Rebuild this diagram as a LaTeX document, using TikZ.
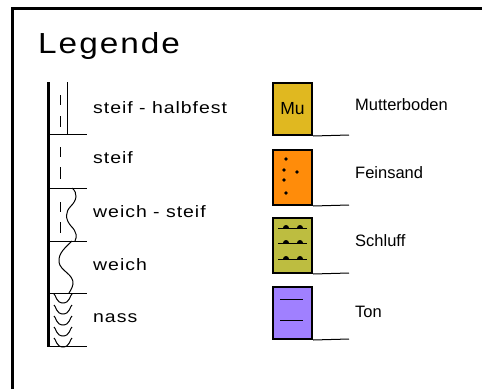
\documentclass[tikz,border=0pt]{standalone}
\usepackage{graphicx}
\usepackage{fontspec}
\setmainfont{Liberation Sans}
\newfontfamily\spacedfont{Liberation Sans}[LetterSpace=5]
\newfontfamily\titlefont{Liberation Sans}[LetterSpace=6]
\newcommand{\widetxt}[1]{\scalebox{1.18}[1]{#1}}
\definecolor{mucol}{HTML}{E0B820}
\definecolor{fscol}{HTML}{FF8C0A}
\definecolor{sucol}{HTML}{BDBD40}
\definecolor{tocol}{HTML}{A080FF}
\begin{document}
\begin{tikzpicture}[x=1pt,y=-1pt,
  lbl/.style={anchor=west,inner sep=0pt,font=\fontsize{16.5}{18}\selectfont},
  slbl/.style={anchor=west,inner sep=0pt,font=\spacedfont\fontsize{16.5}{18}\selectfont},
  soilbox/.style={draw=black,line width=2pt,minimum width=39pt,minimum height=#1,inner sep=0pt},
  sep/.style={line width=1pt},
  thin/.style={line width=1pt}]
\useasboundingbox (0,0) rectangle (482,389);
% frame
\draw[line width=3pt] (12,389) -- (12,8.5) -- (482,8.5);
\node[anchor=base west,inner sep=0pt,font=\titlefont\fontsize{29}{30}\selectfont] (title) at (38,53) {\scalebox{1.15}[1]{Legende}};
% left column
\coordinate (c0) at (48.5,82);
\coordinate (c5) at (48.5,347);
\draw[line width=2.5pt] (c0) -- (c5);
\foreach \y in {134,188,241,293,346} \draw[sep] (48,\y) -- (87,\y);
% section 1
\draw[thin] (67,82) -- (67,134);
\draw[thin] (60,95) -- (60,105) (60,116) -- (60,127);
% section 2
\draw[thin] (60,147) -- (60,157) (60,167) -- (60,179);
% section 3
\draw[thin] (60,202) -- (60,212) (60,222) -- (60,233);
\draw[thin] (72,188) .. controls (78,193) and (77,200) .. (71,206) .. controls (65,212) and (65,219) .. (71,226) .. controls (77,232) and (77,237) .. (75,241);
% section 4
\draw[thin] (72,241) .. controls (66,247) and (58,253) .. (59,262) .. controls (60,271) and (74,274) .. (73,284) .. controls (72,289) and (70,291) .. (69,293);
% section 5
\foreach \y in {294,305,316,327,338}
  \draw[thin] (54,\y) .. controls (56,\y+1) and (56,\y+9) .. (63,\y+9) .. controls (70,\y+9) and (70,\y+1) .. (72,\y);
% labels left
\node[slbl] (l1) at (93,108) {\widetxt{steif - halbfest}};
\node[slbl] (l2) at (93,158) {\widetxt{steif}};
\node[slbl] (l3) at (93,212) {\widetxt{weich - steif}};
\node[slbl] (l4) at (93,265) {\widetxt{weich}};
\node[slbl] (l5) at (93,318) {\widetxt{nass}};
% right column boxes
\node[soilbox=52pt,fill=mucol,font=\fontsize{17.5}{18}\selectfont] (mu) at (292.5,109) {Mu};
\node[soilbox=55pt,fill=fscol] (fs) at (292.5,177.5) {};
\node[soilbox=55pt,fill=sucol] (su) at (292.5,245.5) {};
\node[soilbox=52pt,fill=tocol] (to) at (292.5,313) {};
\coordinate (e1) at (349,135);
\coordinate (e2) at (349,205);
\coordinate (e3) at (349,273);
\coordinate (e4) at (349,339);
\draw[sep] (mu.south east) -- (e1);
\draw[sep] (fs.south east) -- (e2);
\draw[sep] (su.south east) -- (e3);
\draw[sep] (to.south east) -- (e4);
% Feinsand dots
\foreach \p in {(286,159),(284,170),(297,172),(284,180),(286,193)} \fill \p circle (1.8);
% Schluff
\foreach \y in {228,243,259} {
  \draw[thin] (278,\y) -- (307,\y);
  \fill (283,\y) arc (180:360:3) -- cycle;
  \fill (297,\y) arc (180:360:3) -- cycle;
}
% Ton
\draw[thin] (280,299) -- (303,299) (280,320) -- (303,320);
% labels right
\node[lbl] (r1) at (355,105) {Mutterboden};
\node[lbl] (r2) at (355,173) {Feinsand};
\node[lbl] (r3) at (355,241) {Schluff};
\node[lbl] (r4) at (355,312) {Ton};
\end{tikzpicture}
\end{document}
